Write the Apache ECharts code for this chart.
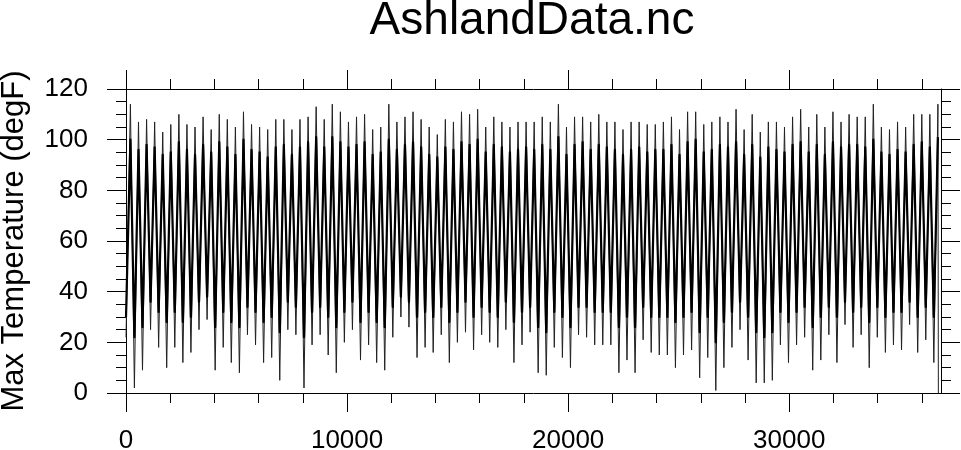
<!DOCTYPE html>
<html>
<head>
<meta charset="utf-8">
<script src="https://cdn.jsdelivr.net/npm/echarts@6/dist/echarts.min.js"></script>
<style>html,body{margin:0;padding:0;background:#fff}#c{width:961px;height:450px}</style>
</head>
<body>
<div id="c"></div>
<script>
// ---------------- data ----------------
const chartTitle = 'AshlandData.nc';
const yAxisTitle = 'Max Temperature (degF)';
const xMin = 0;
const xMax = 36864;
const xMajorTicks = [0, 10000, 20000, 30000];
const xMinorTicks = [2000, 4000, 6000, 8000, 12000, 14000, 16000, 18000, 22000, 24000, 26000, 28000, 32000, 34000, 36000];
const yMajorTicks = [0, 20, 40, 60, 80, 100, 120];
const yMinorTicks = [5, 10, 15, 25, 30, 35, 45, 50, 55, 65, 70, 75, 85, 90, 95, 105, 110, 115];

// day-of-year where each year's winter low and summer high occur
const winterDay = 15;
const summerDay = 200;
const daysPerYear = 365.25;

// yearly extreme summer highs (thin spikes) per year 0..100
const yearHigh = [
  114,107,108,107,103,106,110,106,105,109,104,110,108,105,111,106,105,104,108,108,104,108,109,113,108,114,
  111,107,109,110,104,105,114,107,109,111,108,105,102,108,107,111,110,112,105,109,107,105,107,107,107,
  109,107,114,105,109,109,107,110,107,107,104,107,107,106,106,107,109,104,111,111,106,107,109,107,112,104,
  110,103,107,107,105,109,112,105,110,105,111,107,110,109,109,114,105,104,107,105,110,110,110,114
];
// yearly extreme winter lows (thin spikes) at the start of year 0..100
const yearLow = [
  22,
  2,9,25,18,10,18,12,16,25,29,9,18,12,8,23,19,12,14,5,25,23,2,19,23,15,
  8,20,25,13,19,12,9,22,30,26,14,18,16,23,12,20,24,17,23,20,18,25,12,19,24,8,
  7,18,14,10,23,22,19,19,19,8,13,8,21,16,15,15,10,15,17,6,14,1,10,18,25,13,
  4,4,5,19,12,19,22,9,13,23,12,27,18,23,10,22,16,19,17,27,16,21,12
];
// top of the dense summer band per year 0..100
const bodyHigh = [
  100,96,98,97,94,95,99,96,94,98,95,99,97,94,100,96,95,93,97,98,94,97,99,101,97,101,
  99,97,98,99,94,95,100,96,98,99,97,94,93,97,96,99,98,100,95,98,97,95,96,97,96,
  98,96,101,94,98,99,96,98,97,96,94,96,97,95,96,96,98,94,99,100,95,96,98,97,99,94,
  98,93,97,96,95,98,99,95,98,94,99,97,98,98,97,100,95,94,96,95,98,99,97,101
];
// bottom of the dense winter band at the start of year 0..100
const bodyLow = [
  30,
  22,26,36,32,28,32,28,30,36,38,26,32,28,26,34,32,28,30,24,36,34,22,32,34,30,
  26,32,36,28,32,28,26,34,38,36,30,32,30,34,28,32,36,30,34,32,30,36,28,32,34,26,
  24,32,30,26,34,34,32,32,32,26,30,26,34,30,30,30,28,30,32,24,30,20,28,32,36,30,
  24,22,24,32,28,32,34,26,30,34,30,36,32,34,28,34,30,32,32,36,30,34,30
];
// final record drop
const lastDay = 36745;
const lastValue = 0;

// ---------------- build series data ----------------
const extremeData = [];
const bodyData = [];
for (let k = 0; k < yearHigh.length; k++) {
  const dLow = k === 0 ? 0 : Math.round(k * daysPerYear) + winterDay;
  const dHigh = Math.round(k * daysPerYear) + summerDay;
  extremeData.push([dLow, yearLow[k]], [dHigh, yearHigh[k]]);
  bodyData.push([dLow, bodyLow[k]], [dHigh, bodyHigh[k]]);
}
extremeData.push([lastDay, lastValue]);

// ---------------- chart ----------------
const FONT = "'Liberation Sans', Arial, Helvetica, sans-serif";
const BLACK = '#000';
const MAJOR = 19, MINOR = 10;
const plain = v => String(v);

function xAxisDef(position, ticks, len, withLine, withLabel) {
  return {
    type: 'value', gridIndex: 0, position: position,
    min: xMin, max: xMax,
    axisLine: { show: withLine, onZero: false, lineStyle: { color: BLACK, width: 1 } },
    axisTick: { show: true, inside: false, length: len, customValues: ticks, lineStyle: { color: BLACK, width: 1 } },
    axisLabel: withLabel ? { show: true, customValues: xMajorTicks, formatter: plain, margin: 35, color: BLACK, fontFamily: FONT, fontSize: 26 } : { show: false },
    splitLine: { show: false }
  };
}
function yAxisDef(position, ticks, len, withLine, withLabel) {
  return {
    type: 'value', gridIndex: 0, position: position,
    min: 0, max: 120, interval: 20,
    axisLine: { show: withLine, onZero: false, lineStyle: { color: BLACK, width: 1 } },
    axisTick: { show: true, inside: false, length: len, customValues: ticks, lineStyle: { color: BLACK, width: 1 } },
    axisLabel: withLabel ? { show: true, customValues: yMajorTicks, formatter: plain, margin: 38, color: BLACK, fontFamily: FONT, fontSize: 26 } : { show: false },
    splitLine: { show: false }
  };
}

const yMain = yAxisDef('left', yMajorTicks, MAJOR, true, true);
yMain.name = yAxisTitle;
yMain.nameLocation = 'middle';
yMain.nameGap = 96;
yMain.nameTextStyle = { color: BLACK, fontFamily: FONT, fontSize: 31 };

const chart = echarts.init(document.getElementById('c'), null, { renderer: 'canvas' });
chart.setOption({
  animation: false,
  backgroundColor: '#fff',
  title: {
    text: chartTitle, left: 532, textAlign: 'center', top: -2, padding: 0,
    textStyle: { color: BLACK, fontFamily: FONT, fontSize: 46, fontWeight: 'normal' }
  },
  grid: { left: 126, right: 20, top: 89, bottom: 57, containLabel: false, outerBoundsMode: 'none' },
  xAxis: [
    xAxisDef('bottom', xMajorTicks, MAJOR, true, true),
    xAxisDef('bottom', xMinorTicks, MINOR, false, false),
    xAxisDef('top', xMajorTicks, MAJOR, true, false),
    xAxisDef('top', xMinorTicks, MINOR, false, false)
  ],
  yAxis: [
    yMain,
    yAxisDef('left', yMinorTicks, MINOR, false, false),
    yAxisDef('right', yMajorTicks, MAJOR, true, false),
    yAxisDef('right', yMinorTicks, MINOR, false, false)
  ],
  series: [
    {
      type: 'line', xAxisIndex: 0, yAxisIndex: 0, data: extremeData,
      showSymbol: false, symbol: 'none', clip: true, sampling: null,
      lineStyle: { color: '#222', width: 1 }, z: 2
    },
    {
      type: 'line', xAxisIndex: 0, yAxisIndex: 0, data: bodyData,
      showSymbol: false, symbol: 'none', clip: true, sampling: null,
      lineStyle: { color: BLACK, width: 2.2, join: 'round' }, z: 3
    }
  ]
});
</script>
</body>
</html>
